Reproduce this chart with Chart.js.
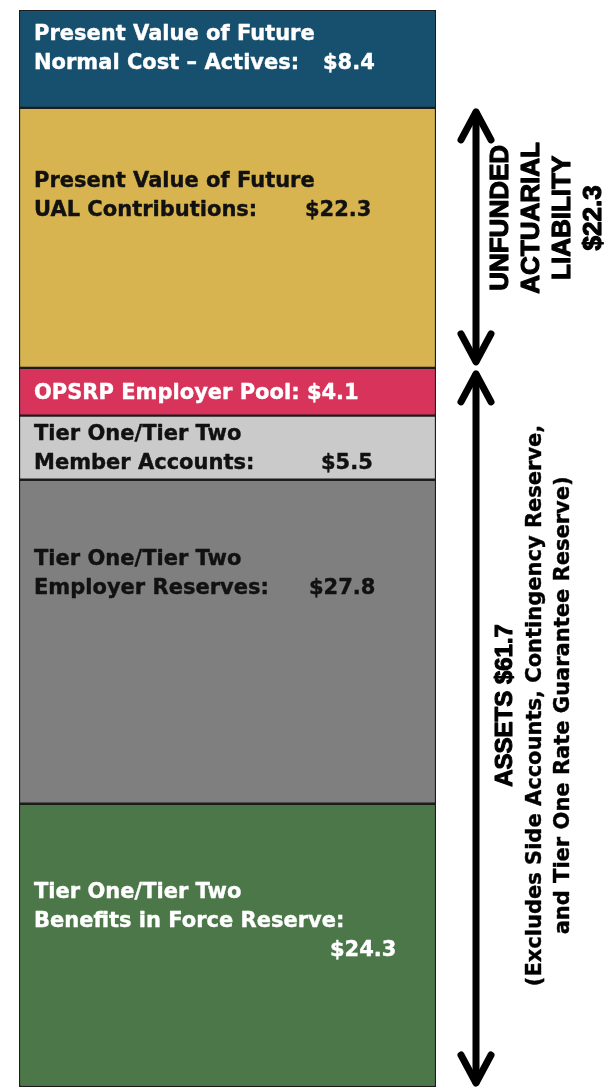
<!DOCTYPE html>
<html>
<head>
<meta charset="utf-8">
<script src="https://cdn.jsdelivr.net/npm/chart.js@4"></script>
<style>
  body { margin: 0; background: #fff; }
  #wrap { width: 615px; height: 1087px; position: relative; }
</style>
</head>
<body>
<div id="wrap"><canvas id="chart"></canvas></div>
<script>
// Data ---------------------------------------------------------------
const categories = ['Funded status'];
const segmentNames = [
    'Tier One/Tier Two Benefits in Force Reserve',
    'Tier One/Tier Two Employer Reserves',
    'Tier One/Tier Two Member Accounts',
    'OPSRP Employer Pool',
    'Present Value of Future UAL Contributions',
    'Present Value of Future Normal Cost – Actives'
];
const segmentValues = [24.3, 27.8, 5.5, 4.1, 22.3, 8.4];
const labelLines = [
    ['Tier One/Tier Two', 'Benefits in Force Reserve:'],
    ['Tier One/Tier Two', 'Employer Reserves:'],
    ['Tier One/Tier Two', 'Member Accounts:'],
    ['OPSRP Employer Pool:'],
    ['Present Value of Future', 'UAL Contributions:'],
    ['Present Value of Future', 'Normal Cost – Actives:']
];
const ualLines = ['UNFUNDED', 'ACTUARIAL', 'LIABILITY'];
const assetLines = ['ASSETS', '(Excludes Side Accounts, Contingency Reserve,', 'and Tier One Rate Guarantee Reserve)'];

// Styles ---------------------------------------------------------------
const fillColors = ['#4c7749', '#7f7f7f', '#cacaca', '#d7335b', '#d7b44f', '#17506f'];
const textColors = ['#ffffff', '#111111', '#111111', '#ffffff', '#111111', '#ffffff'];
// x of the value text (null = right after the label), own line or not, vertical shift
const valueX = [330, 309, 321, null, 305, 323];
const valueOwnLine = [true, false, false, false, false, false];
const blockShift = [-25, -69, 0, 0, -43, -11];

const fmt = v => '$' + v.toFixed(1);

// Labels, arrows and side text -----------------------------------------
const overlay = {
    id: 'overlay',
    afterDatasetsDraw(chart) {
        const ctx = chart.ctx;
        const y = chart.scales.y;
        const pitch = 29;

        // heavier text: fill plus a thin outline of the same colour
        function heavy(txt, x, yy, w) {
            ctx.lineWidth = w;
            ctx.strokeStyle = ctx.fillStyle;
            ctx.lineJoin = 'round';
            ctx.strokeText(txt, x, yy);
            ctx.fillText(txt, x, yy);
        }

        // labels inside the segments
        chart.data.datasets.forEach((ds, i) => {
            const bar = chart.getDatasetMeta(i).data[0];
            const mid = (bar.y + bar.base) / 2 + blockShift[i];
            const lines = labelLines[i].slice();
            const n = lines.length + (valueOwnLine[i] ? 1 : 0);
            let base = mid - (n - 1) * pitch / 2 + 7;
            ctx.save();
            ctx.font = 'bold 21px "DejaVu Sans"';
            ctx.fillStyle = textColors[i];
            ctx.textAlign = 'left';
            ctx.textBaseline = 'alphabetic';
            const x0 = bar.x - bar.width / 2 + 15;
            lines.forEach((ln, k) => {
                const last = k === lines.length - 1;
                let txt = ln;
                if (last && !valueOwnLine[i] && valueX[i] === null) txt = ln + ' ' + fmt(ds.data[0]);
                heavy(txt, x0, base + k * pitch, 0.4);
                if (last && !valueOwnLine[i] && valueX[i] !== null) {
                    heavy(fmt(ds.data[0]), valueX[i], base + k * pitch, 0.4);
                }
            });
            if (valueOwnLine[i]) {
                heavy(fmt(ds.data[0]), valueX[i], base + lines.length * pitch, 0.4);
            }
            ctx.restore();
        });

        // arrow positions from the stacked values
        const assets = segmentValues.slice(0, 4).reduce((a, b) => a + b, 0);
        const ual = segmentValues[4];
        const yAssetsTop = y.getPixelForValue(assets);
        const yZero = y.getPixelForValue(0);
        const yUalTop = y.getPixelForValue(assets + ual);
        const ax = 476;

        function arrow(y1, y2) {
            ctx.save();
            ctx.strokeStyle = '#000';
            ctx.lineWidth = 7;
            ctx.lineCap = 'round';
            ctx.lineJoin = 'round';
            ctx.beginPath();
            ctx.moveTo(ax, y1 + 3);
            ctx.lineTo(ax, y2 - 3);
            ctx.stroke();
            ctx.beginPath();
            ctx.moveTo(ax - 15, y1 + 30);
            ctx.lineTo(ax, y1 + 2);
            ctx.lineTo(ax + 15, y1 + 30);
            ctx.moveTo(ax - 15, y2 - 30);
            ctx.lineTo(ax, y2 - 2);
            ctx.lineTo(ax + 15, y2 - 30);
            ctx.stroke();
            ctx.restore();
        }
        arrow(yUalTop + 2, yAssetsTop - 4);
        arrow(yAssetsTop + 4, yZero - 2);

        function sideText(lines, fonts, widths, xs, cy) {
            ctx.save();
            ctx.fillStyle = '#000';
            ctx.textAlign = 'center';
            ctx.textBaseline = 'alphabetic';
            lines.forEach((ln, k) => {
                ctx.save();
                ctx.translate(xs[k], cy);
                ctx.rotate(-Math.PI / 2);
                ctx.font = fonts[k];
                heavy(ln, 0, 0, widths[k]);
                ctx.restore();
            });
            ctx.restore();
        }
        const sans = 'bold 26px "Liberation Sans"';
        sideText(ualLines.concat([fmt(ual)]), [sans, sans, sans, sans], [1.2, 1.2, 1.2, 1.2],
            [508, 539, 570, 601], (yUalTop + yAssetsTop) / 2 - 20);

        const lines = assetLines.slice();
        lines[0] = lines[0] + ' ' + fmt(assets);
        sideText(lines, ['bold 24px "Liberation Sans"', 'bold 21px "DejaVu Sans"', 'bold 21px "DejaVu Sans"'],
            [1.1, 0.4, 0.4], [512, 541, 569], (yAssetsTop + yZero) / 2 - 22);
    }
};

new Chart(document.getElementById('chart'), {
    type: 'bar',
    data: {
        labels: categories,
        datasets: segmentValues.map((v, i) => ({
            label: segmentNames[i],
            data: [v],
            backgroundColor: fillColors[i],
            borderColor: '#1c1c1c',
            borderWidth: 1.5,
            borderSkipped: false,
            barPercentage: 1,
            categoryPercentage: 1
        }))
    },
    options: {
        responsive: true,
        maintainAspectRatio: false,
        animation: false,
        layout: { padding: { top: 10, left: 19, right: 179, bottom: 0 } },
        scales: {
            x: { stacked: true, display: false },
            y: { stacked: true, display: false, min: 0, max: 92.4 }
        },
        plugins: {
            legend: { display: false },
            tooltip: { enabled: false }
        }
    },
    plugins: [overlay]
});
</script>
</body>
</html>
